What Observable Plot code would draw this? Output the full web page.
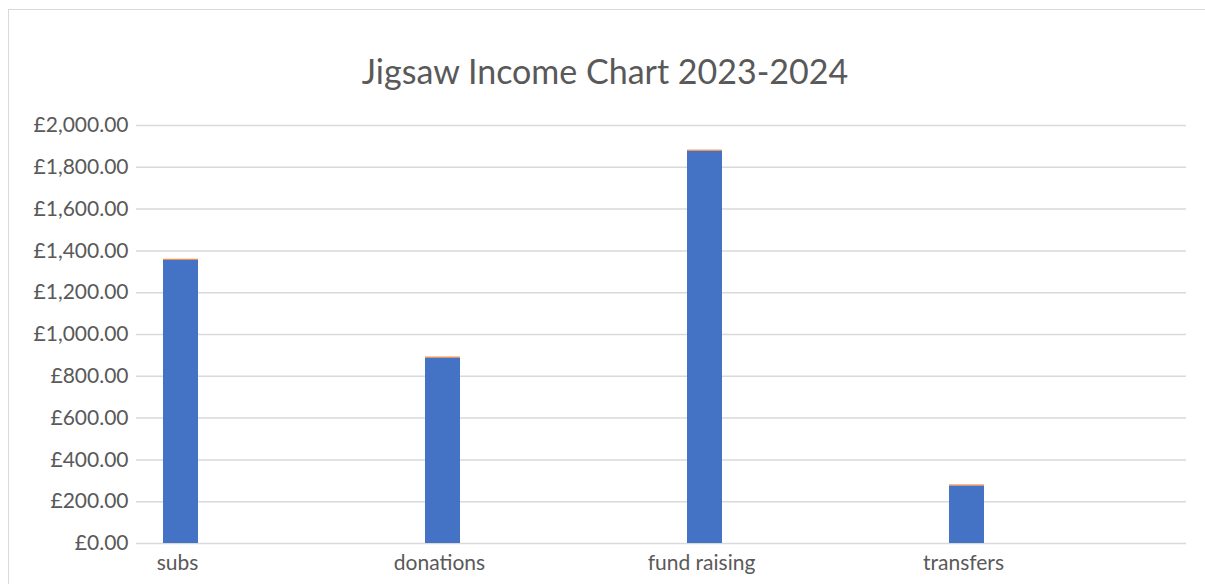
<!DOCTYPE html>
<html>
<head>
<meta charset="utf-8">
<script src="https://cdn.jsdelivr.net/npm/d3@7"></script>
<script src="https://cdn.jsdelivr.net/npm/@observablehq/plot@0.6"></script>
<style>
  body { margin: 0; background: #fff; }
  #wrap { position: relative; width: 1205px; height: 584px; overflow: hidden; font-family: Lato, "Open Sans", sans-serif; }
  #frame { position: absolute; left: 8px; top: 9px; width: 1200px; height: 600px; border: 1px solid #d9d9d9; box-sizing: border-box; }
  #title { position: absolute; left: 0; width: 1210px; top: 51px; text-align: center; font-size: 34px; color: #595959; line-height: 40px; }
  #chart { position: absolute; left: 0; top: 0; }
</style>
</head>
<body>
<div id="wrap">
  <div id="frame"></div>
  <div id="title">Jigsaw Income Chart 2023-2024</div>
  <div id="chart"></div>
</div>
<script>
const categories = ["subs", "donations", "fund raising", "transfers"];
const seriesNames = ["Series1", "Series2"];
const series1 = [1355, 887, 1877, 275];
const series2 = [5, 5, 5, 5];
const yTicks = [0, 200, 400, 600, 800, 1000, 1200, 1400, 1600, 1800, 2000];

const data = [];
categories.forEach((c, i) => {
  data.push({category: c, series: seriesNames[0], value: series1[i]});
  data.push({category: c, series: seriesNames[1], value: series2[i]});
});

const fmt = d => "£" + d3.format(",.2f")(d);

const chart = Plot.plot({
  width: 1205,
  height: 584,
  marginLeft: 136,
  marginRight: 19,
  marginTop: 125,
  marginBottom: 41,
  style: {fontFamily: "Lato, 'Open Sans', sans-serif", fontSize: "21px", color: "#595959", background: "transparent"},
  x: {domain: categories, padding: 0, label: null},
  y: {domain: [0, 2000], label: null},
  color: {domain: seriesNames, range: ["#4472C4", "#ED7D31"]},
  marks: [
    Plot.gridY(yTicks, {stroke: "#d9d9d9", strokeOpacity: 1, strokeWidth: 1.5}),
    Plot.barY(data, {x: "category", y: "value", fill: "series", insetLeft: 26, insetRight: 201}),
    Plot.axisY(yTicks, {tickSize: 0, tickPadding: 8, tickFormat: fmt, fill: "#595959", label: null}),
    Plot.axisX({tickSize: 0, tickPadding: 12, dx: -91, fill: "#595959", label: null})
  ]
});
document.getElementById("chart").appendChild(chart);
</script>
</body>
</html>
